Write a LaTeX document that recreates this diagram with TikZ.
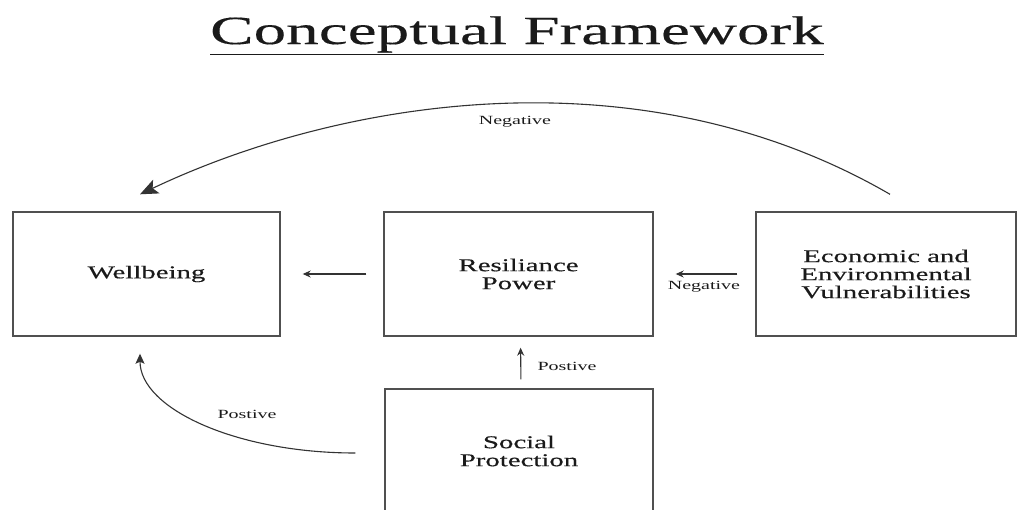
\documentclass[tikz,border=0pt]{standalone}
\usepackage{fontspec}
\setmainfont[FakeStretch=1.6]{Liberation Serif}
\newfontfamily\boxfont[FakeStretch=1.6,FakeBold=0.4]{Liberation Serif}
\newfontfamily\titlefont[FakeStretch=1.63,FakeBold=0.3]{Liberation Serif}
\usetikzlibrary{arrows.meta}
\definecolor{txt}{HTML}{1A1A1A}
\definecolor{boxgray}{HTML}{505050}
\definecolor{arrgray}{HTML}{333333}
\begin{document}
\begin{tikzpicture}[x=1pt,y=-1pt,
  box/.style={draw=boxgray, line width=1.4pt, minimum height=124pt, inner sep=0pt,
    align=center, text=txt, font=\boxfont\fontsize{18}{18}\selectfont},
  lbl/.style={text=txt, inner sep=0pt, font=\fontsize{12.5}{14}\selectfont},
  arr/.style={draw=arrgray, line width=1.1pt, -{Stealth[length=8pt,width=7pt]}},
  curvearr/.style={draw=arrgray, line width=1.1pt, -{Stealth[length=10pt,width=9pt,inset=2pt]}},
  bigarr/.style={draw=arrgray, line width=1.1pt, -{Stealth[length=18pt,width=15pt,inset=4pt]}}]
\useasboundingbox (0,0) rectangle (1017,509);
\clip (0,0) rectangle (1017,509);
\fill[white] (0,0) rectangle (1017,509);

\node[anchor=base, inner sep=0pt, text=txt, font=\titlefont\fontsize{40}{40}\selectfont] (title) at (517,44) {\underline{Conceptual Framework}};

\node[box, minimum width=267pt] (well) at (146.5,274) {Wellbeing};
\node[box, minimum width=269pt] (res) at (518.5,274) {Resiliance\\Power};
\node[box, minimum width=260pt] (econ) at (886,274) {Economic and\\Environmental\\Vulnerabilities};
\node[box, minimum width=268pt] (soc) at (519,451) {Social\\Protection};

\draw[arr, shorten <=17pt, shorten >=22pt] (res) -- (well);
\draw[arr, shorten <=18pt, shorten >=22pt] (econ) -- (res);
\draw[arr, shorten <=9pt, shorten >=11pt] ([xshift=2pt]soc.north) -- ([xshift=2pt]res.south);
\draw[curvearr] ([xshift=-29pt,yshift=-2pt]soc.west) .. controls +(-119,0) and +(0,55) .. ([xshift=-6.5pt,yshift=-17pt]well.south);
\draw[bigarr] ([xshift=4pt,yshift=17pt]econ.north) .. controls +(-250,-145) and +(200,-95) .. ([xshift=-6.5pt,yshift=17pt]well.north);

\node[lbl] (negtop) at (515,122) {Negative};
\node[lbl] (negmid) at (704,287) {Negative};
\node[lbl] (posv) at (567,366) {Postive};
\node[lbl] (posc) at (247,414) {Postive};
\end{tikzpicture}
\end{document}
